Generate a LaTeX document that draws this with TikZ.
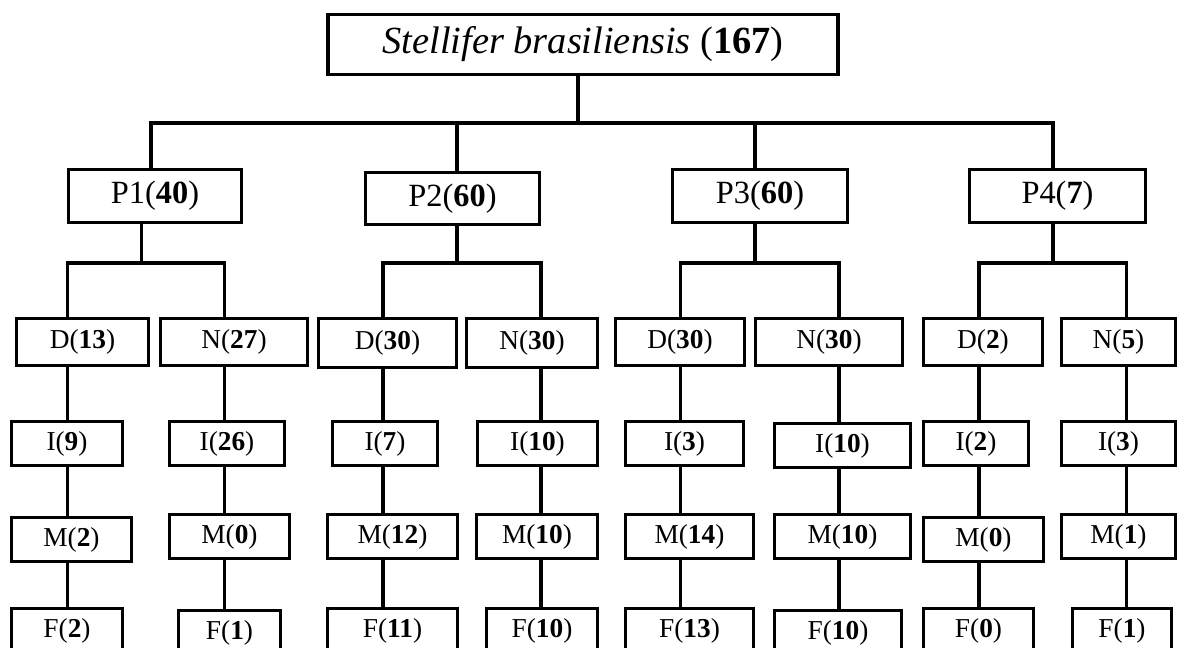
\documentclass[tikz,border=0pt]{standalone}
\usepackage{fontspec}
\setmainfont{Liberation Serif}

\tikzset{
    box/.style 2 args={draw, line width=2.6pt, inner sep=0pt,
        minimum width=#1*0.75pt, minimum height=#2*0.75pt},
    link/.style={line width=2.6pt, line join=miter},
    small/.style={font=\fontsize{20.5}{24}\selectfont},
}

\begin{document}
\begin{tikzpicture}[x=0.75pt, y=-0.75pt]
    \useasboundingbox (0,0) rectangle (1179,648);
    \begin{scope}
    \clip (0,0) rectangle (1179,648);

    % Species (root)
    \node[box={510}{60}, font=\fontsize{28.8}{34}\selectfont] (root) at (583,44.5) {\textit{Stellifer brasiliensis} (\textbf{167})};

    % Periods
    \node[box={172.5}{52.5}, font=\fontsize{24.3}{28}\selectfont] (p1) at (155,196) {P1(\textbf{40})};
    \node[box={173.5}{51.5}, font=\fontsize{24.3}{28}\selectfont] (p2) at (452.5,198.5) {P2(\textbf{60})};
    \node[box={174.5}{52.5}, font=\fontsize{24.3}{28}\selectfont] (p3) at (760,196) {P3(\textbf{60})};
    \node[box={175.5}{52.5}, font=\fontsize{24.3}{28}\selectfont] (p4) at (1057.5,196) {P4(\textbf{7})};

    % Day / night
    \node[box={131.5}{46.5}, small] (dn1) at (82.5,342) {D(\textbf{13})};
    \node[box={146.5}{46.5}, small] (dn2) at (234,342) {N(\textbf{27})};
    \node[box={137.5}{48.5}, small] (dn3) at (387.5,343) {D(\textbf{30})};
    \node[box={130.5}{48.5}, small] (dn4) at (532,343) {N(\textbf{30})};
    \node[box={128.5}{46.5}, small] (dn5) at (680,342) {D(\textbf{30})};
    \node[box={146.5}{46.5}, small] (dn6) at (829,342) {N(\textbf{30})};
    \node[box={118.5}{46.5}, small] (dn7) at (983,342) {D(\textbf{2})};
    \node[box={113.5}{46.5}, small] (dn8) at (1118.5,342) {N(\textbf{5})};

    % I row
    \node[box={110.5}{43.5}, small] (i1) at (67,443.5) {I(\textbf{9})};
    \node[box={114.5}{43.5}, small] (i2) at (227,443.5) {I(\textbf{26})};
    \node[box={104.5}{43.5}, small] (i3) at (385,443.5) {I(\textbf{7})};
    \node[box={119.5}{43.5}, small] (i4) at (537.5,443.5) {I(\textbf{10})};
    \node[box={117.5}{43.5}, small] (i5) at (684.5,443.5) {I(\textbf{3})};
    \node[box={135.5}{43.5}, small] (i6) at (842.5,445.5) {I(\textbf{10})};
    \node[box={104.5}{43.5}, small] (i7) at (976,443.5) {I(\textbf{2})};
    \node[box={113.5}{43.5}, small] (i8) at (1118.5,443.5) {I(\textbf{3})};

    % M row
    \node[box={119.5}{43.5}, small] (m1) at (71.5,539.5) {M(\textbf{2})};
    \node[box={119.5}{43.5}, small] (m2) at (229.5,536.5) {M(\textbf{0})};
    \node[box={129.5}{43.5}, small] (m3) at (392.5,536.5) {M(\textbf{12})};
    \node[box={120.5}{43.5}, small] (m4) at (537,536.5) {M(\textbf{10})};
    \node[box={127.5}{43.5}, small] (m5) at (689.5,536.5) {M(\textbf{14})};
    \node[box={135.5}{43.5}, small] (m6) at (842.5,536.5) {M(\textbf{10})};
    \node[box={119.5}{43.5}, small] (m7) at (983.5,539.5) {M(\textbf{0})};
    \node[box={113.5}{43.5}, small] (m8) at (1118.5,536.5) {M(\textbf{1})};

    % F row (cut by the lower edge)
    \node[box={110.5}{44.5}, small] (f1) at (67,631) {F(\textbf{2})};
    \node[box={101.5}{44.5}, small] (f2) at (229.5,633) {F(\textbf{1})};
    \node[box={129.5}{44.5}, small] (f3) at (392.5,631) {F(\textbf{11})};
    \node[box={110.5}{44.5}, small] (f4) at (542,631) {F(\textbf{10})};
    \node[box={127.5}{44.5}, small] (f5) at (689.5,631) {F(\textbf{13})};
    \node[box={126.5}{44.5}, small] (f6) at (838,633) {F(\textbf{10})};
    \node[box={109.5}{44.5}, small] (f7) at (978.5,631) {F(\textbf{0})};
    \node[box={98.5}{44.5}, small] (f8) at (1122,631) {F(\textbf{1})};

    % Bar under the root
    \coordinate (rb) at (578,123);
    \coordinate (b1) at (151,123); \coordinate (b2) at (457,123);
    \coordinate (b3) at (755,123); \coordinate (b4) at (1053,123);
    \draw[link] (root.south -| rb) -- (rb);
    \draw[link] (p1.north -| b1) -- (b1) -- (b4) -- (p4.north -| b4);
    \draw[link] (b2) -- (p2.north -| b2);
    \draw[link] (b3) -- (p3.north -| b3);

    % Bars under the periods
    \coordinate (q1) at (141.6,263); \coordinate (q2) at (457,263);
    \coordinate (q3) at (755,263); \coordinate (q4) at (1053,263);
    \coordinate (k1) at (67.5,263); \coordinate (k2) at (224.6,263);
    \coordinate (k3) at (383,263); \coordinate (k4) at (541,263);
    \coordinate (k5) at (680.6,263); \coordinate (k6) at (839,263);
    \coordinate (k7) at (979,263); \coordinate (k8) at (1126.5,263);
    \foreach \p/\a/\b in {1/1/2, 2/3/4, 3/5/6, 4/7/8} {
        \draw[link] (p\p.south -| q\p) -- (q\p);
        \draw[link] (dn\a.north -| k\a) -- (k\a) -- (k\b) -- (dn\b.north -| k\b);
    }

    % Columns
    \foreach \c in {1,...,8}
        \draw[link] (dn\c.south -| k\c) -- (i\c.north -| k\c)
                    (i\c.south -| k\c) -- (m\c.north -| k\c)
                    (m\c.south -| k\c) -- (f\c.north -| k\c);
    \end{scope}
\end{tikzpicture}
\end{document}
